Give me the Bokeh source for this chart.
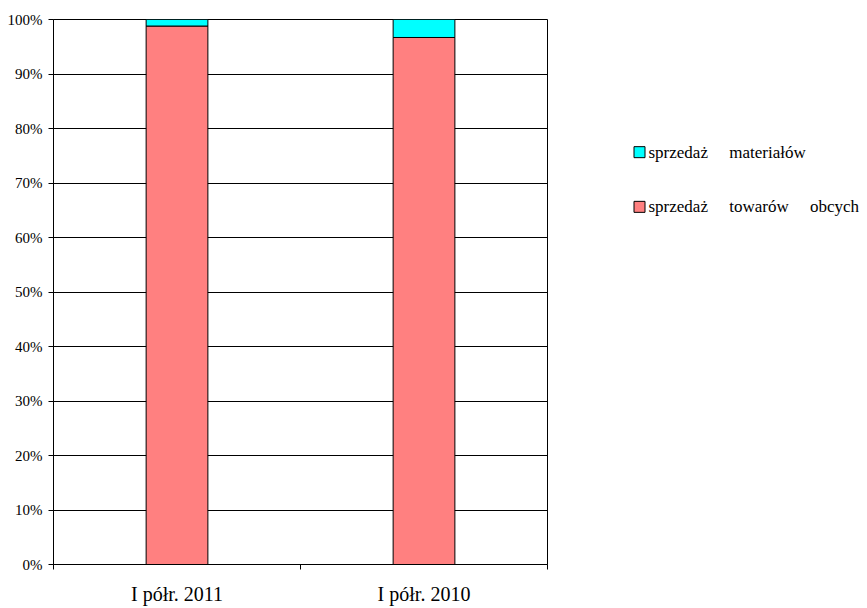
from bokeh.plotting import figure
from bokeh.layouts import row
from bokeh.models import ColumnDataSource, FixedTicker, NumeralTickFormatter, Range1d
from bokeh.core.properties import value
from bokeh.embed import file_html
from bokeh.resources import INLINE

categories = ["I półr. 2011", "I półr. 2010"]
towary_obce = [0.988, 0.967]
materialy = [0.012, 0.033]
series_names = ["sprzedaż\u00a0\u00a0\u00a0\u00a0 materiałów",
                "sprzedaż\u00a0\u00a0\u00a0\u00a0 towarów\u00a0\u00a0\u00a0\u00a0 obcych"]
colors = ["#00FFFF", "#FF8080"]

# legend layout (pixels inside the legend panel)
legend_x = 91
legend_y = [148, 209]

xpos = [i + 0.5 for i in range(len(categories))]
src = ColumnDataSource(dict(x=xpos, towary=towary_obce, materialy=materialy))

p = figure(width=548, height=608, output_backend="svg", toolbar_location=None,
           x_range=Range1d(0, len(categories)), y_range=Range1d(0, 1),
           min_border_left=53, min_border_right=1, min_border_top=19, min_border_bottom=44)

rs = p.vbar_stack(["towary", "materialy"], x="x", width=0.25, source=src,
                  color=[colors[1], colors[0]], line_color="black", line_width=1)

font = "Liberation Serif"
yt = FixedTicker(ticks=[i / 10 for i in range(11)])
p.yaxis.ticker = yt
p.yaxis.formatter = NumeralTickFormatter(format="0%")
p.yaxis.major_label_text_font = font
p.yaxis.major_label_text_font_size = "15px"
p.yaxis.major_label_text_color = "black"
p.yaxis.major_tick_out = 5
p.yaxis.major_tick_in = 0
p.yaxis.minor_tick_line_color = None
p.yaxis.axis_line_color = "black"
p.yaxis.major_tick_line_color = "black"
p.yaxis.major_label_standoff = 6

p.xaxis.ticker = FixedTicker(ticks=xpos, minor_ticks=list(range(len(categories) + 1)))
p.xaxis.major_label_overrides = {x: c for x, c in zip(xpos, categories)}
p.xaxis.major_label_text_font = font
p.xaxis.major_label_text_font_size = "20px"
p.xaxis.major_label_text_color = "black"
p.xaxis.major_tick_out = 0
p.xaxis.major_tick_in = 0
p.xaxis.minor_tick_out = 5
p.xaxis.minor_tick_in = 0
p.xaxis.minor_tick_line_color = "black"
p.xaxis.axis_line_color = "black"
p.xaxis.major_label_standoff = 13

p.xgrid.grid_line_color = None
p.ygrid.ticker = yt
p.ygrid.grid_line_color = "black"
p.ygrid.grid_line_alpha = 1
p.outline_line_color = "black"
p.outline_line_alpha = 1

# legend panel (pixel coordinates, y downward)
q = figure(width=319, height=608, output_backend="svg", toolbar_location=None,
           x_axis_type=None, y_axis_type=None, min_border=0,
           x_range=Range1d(0, 319), y_range=Range1d(608, 0))
q.outline_line_color = None
q.xgrid.grid_line_color = None
q.ygrid.grid_line_color = None
lsrc = ColumnDataSource(dict(x=[legend_x] * len(series_names), y=legend_y,
                             tx=[legend_x + 9] * len(series_names),
                             label=series_names, color=colors))
q.rect(x="x", y="y", width=11, height=11, width_units="screen", height_units="screen",
       fill_color="color", line_color="black", source=lsrc)
q.text(x="tx", y="y", text="label", source=lsrc, text_font=value(font),
       text_font_size="17px", text_baseline="middle", text_align="left", text_color="black")

layout = row(p, q)
open("out.html", "w").write(file_html(layout, INLINE))
